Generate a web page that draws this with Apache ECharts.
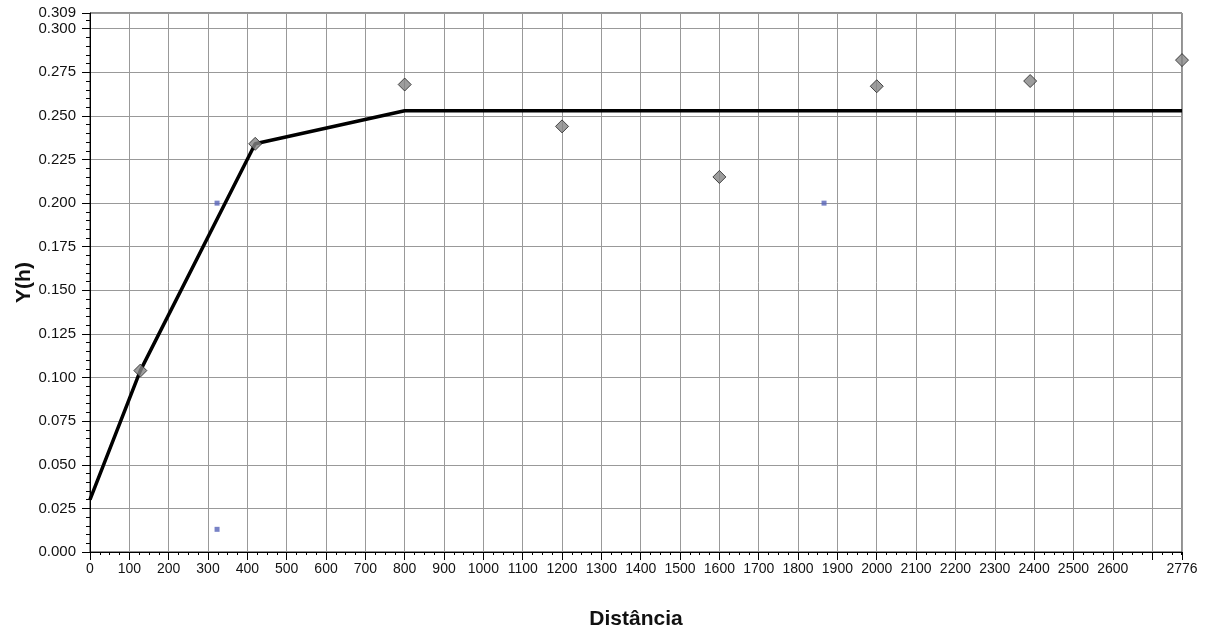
<!DOCTYPE html>
<html>
<head>
<meta charset="utf-8">
<script src="https://cdn.jsdelivr.net/npm/echarts@6/dist/echarts.min.js"></script>
<style>
  html, body { margin: 0; padding: 0; background: #fff; }
  #chart { width: 1207px; height: 632px; }
</style>
</head>
<body>
<div id="chart"></div>
<script>
// semivariograma experimental (pontos)
var expX = [128, 420, 800, 1200, 1600, 2000, 2390, 2776];
var expY = [0.104, 0.234, 0.268, 0.244, 0.215, 0.267, 0.270, 0.282];
// pontos azuis pequenos
var extraX = [323, 323, 1866];
var extraY = [0.200, 0.013, 0.200];
// modelo ajustado
var modelX = [0, 128, 420, 800, 2776];
var modelY = [0.030, 0.104, 0.234, 0.253, 0.253];

function zip(xs, ys) {
    return xs.map(function (x, i) { return [x, ys[i]]; });
}

var myChart = echarts.init(document.getElementById('chart'));
var option = {
    animation: false,
    grid: {
        left: 90, right: 25, top: 13, bottom: 80,
        outerBoundsMode: 'none',
        containLabel: false,
        show: true, borderColor: '#222', borderWidth: 1
    },
    xAxis: {
        type: 'value',
        min: 0, max: 2776, interval: 100,
        name: 'Distância',
        nameLocation: 'middle',
        nameGap: 57,
        nameMoveOverlap: false,
        nameTextStyle: { fontFamily: 'Liberation Sans', fontSize: 21, fontWeight: 'bold', color: '#111' },
        axisLine: { lineStyle: { color: '#000', width: 1 } },
        axisTick: { show: true, length: 8, lineStyle: { color: '#000' } },
        minorTick: { show: true, splitNumber: 4, length: 3, lineStyle: { color: '#000' } },
        axisLabel: {
            fontFamily: 'Liberation Sans', fontSize: 14, color: '#111', margin: 10,
            formatter: function (v) { return v === 2700 ? '' : v; }
        },
        splitLine: { show: true, lineStyle: { color: '#999', width: 1 } }
    },
    yAxis: {
        type: 'value',
        min: 0, max: 0.309, interval: 0.025,
        name: 'Y(h)',
        nameLocation: 'middle',
        nameGap: 55,
        nameMoveOverlap: false,
        nameTextStyle: { fontFamily: 'Liberation Sans', fontSize: 21, fontWeight: 'bold', color: '#111' },
        axisLine: { show: true, lineStyle: { color: '#000', width: 1 } },
        axisTick: { show: true, length: 8, lineStyle: { color: '#000' } },
        minorTick: { show: true, splitNumber: 5, length: 4, lineStyle: { color: '#000' } },
        axisLabel: {
            fontFamily: 'Liberation Sans', fontSize: 15, color: '#111', margin: 14,
            formatter: function (v) { return v.toFixed(3); }
        },
        splitLine: { show: true, lineStyle: { color: '#999', width: 1 } }
    },
    series: [
        {
            type: 'line',
            data: zip(modelX, modelY),
            symbol: 'none',
            lineStyle: { color: '#000', width: 3.5 },
            z: 2
        },
        {
            type: 'scatter',
            data: zip(expX, expY),
            symbol: 'diamond',
            symbolSize: [13, 13],
            itemStyle: { color: '#858585', borderColor: '#222', borderWidth: 1 },
            z: 3
        },
        {
            type: 'scatter',
            data: zip(extraX, extraY),
            symbol: 'rect',
            symbolSize: 5,
            itemStyle: { color: '#5663b8' },
            z: 3
        }
    ]
};
myChart.setOption(option);
</script>
</body>
</html>
